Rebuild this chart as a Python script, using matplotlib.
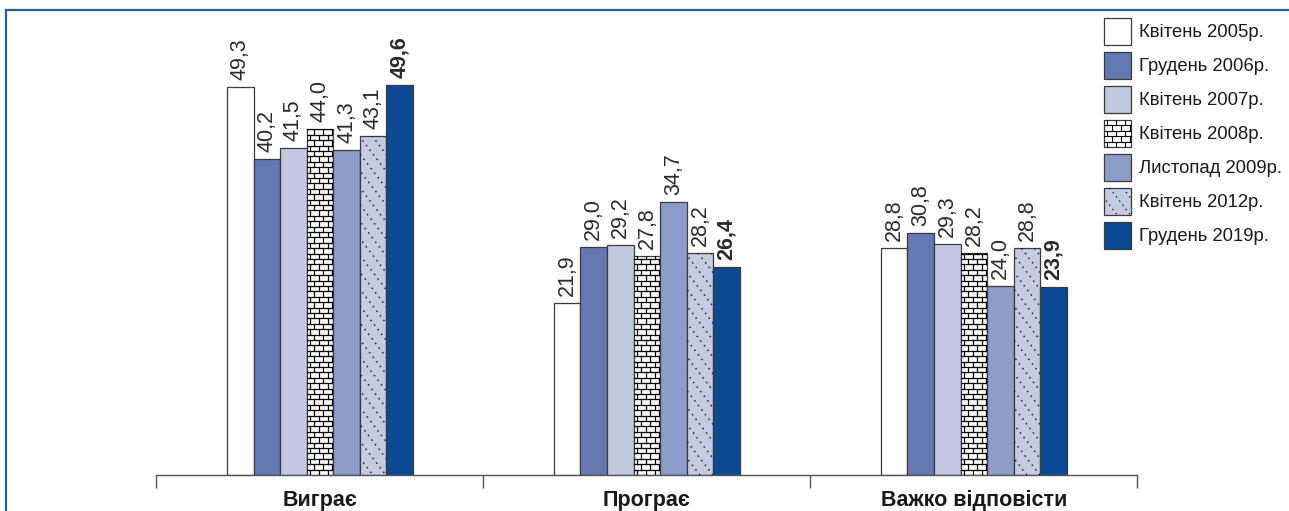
import numpy as np
import matplotlib
matplotlib.use('Agg')
import matplotlib.pyplot as plt
from matplotlib.patches import Rectangle
from matplotlib.lines import Line2D
from matplotlib.legend_handler import HandlerBase

# ================= DATA =================
categories = ['Виграє', 'Програє', 'Важко відповісти']
series_labels = ['Квітень 2005р.', 'Грудень 2006р.', 'Квітень 2007р.', 'Квітень 2008р.',
                 'Листопад 2009р.', 'Квітень 2012р.', 'Грудень 2019р.']
apr_2005 = [49.3, 21.9, 28.8]
dec_2006 = [40.2, 29.0, 30.8]
apr_2007 = [41.5, 29.2, 29.3]
apr_2008 = [44.0, 27.8, 28.2]
nov_2009 = [41.3, 34.7, 24.0]
apr_2012 = [43.1, 28.2, 28.8]
dec_2019 = [49.6, 26.4, 23.9]
series_values = [apr_2005, dec_2006, apr_2007, apr_2008, nov_2009, apr_2012, dec_2019]

# ================= STYLE =================
face_colors = ['#FFFFFF', '#6479B2', '#C3C8E1', '#FFFFFF', '#8D9DC9', '#C5CBE3', '#0B4A92']
fill_style = ['plain', 'plain', 'plain', 'brick', 'plain', 'dots', 'plain']
edge_color = '#3A3A3A'
text_color = '#2B2B2B'
frame_blue = '#1F5FA8'
bar_w = 0.0813

plt.rcParams['font.family'] = ['Liberation Sans', 'DejaVu Sans']

fig = plt.figure(figsize=(12.89, 5.11), dpi=100)
ax = fig.add_axes([0.1214, 0.0705, 0.761, 0.847])
ax.set_xlim(-0.5, 2.5)
ax.set_ylim(0, 55)

# pixel -> data unit helpers for textures
px_x = 3.0 / (0.761 * 1289)
px_y = 55.0 / (0.847 * 511)


def brick_lines(x0, y0, w, h, row_h, brick_w):
    segs = []
    nrows = int(np.ceil(h / row_h))
    for r in range(nrows):
        yy = y0 + r * row_h
        ytop = min(yy + row_h, y0 + h)
        if r > 0:
            segs.append(((x0, yy), (x0 + w, yy)))
        off = brick_w * 0.35 if r % 2 == 0 else brick_w * 0.85
        xx = x0 + off
        while xx < x0 + w:
            segs.append(((xx, yy), (xx, ytop)))
            xx += brick_w
    return segs


def diag_lines(x0, y0, w, h, step_x, slope):
    # lines going from upper-left to lower-right
    segs = []
    span = h / slope
    start = x0 - span
    k = 0
    while start + k * step_x < x0 + w:
        xs = start + k * step_x
        segs.append(((xs, y0 + h), (xs + span, y0)))
        k += 1
    return segs


for i, vals in enumerate(series_values):
    xs = np.arange(len(categories)) + (i - 3) * bar_w
    bars = ax.bar(xs, vals, width=bar_w, color=face_colors[i], edgecolor=edge_color,
                  linewidth=0.9, zorder=2)
    for b, v in zip(bars, vals):
        x0, w, h = b.get_x(), b.get_width(), b.get_height()
        if fill_style[i] == 'brick':
            for (p, q) in brick_lines(x0, 0, w, h, 5.4 * px_y, 9 * px_x):
                ln = Line2D([p[0], q[0]], [p[1], q[1]], color='black', lw=0.9, zorder=3)
                ax.add_line(ln)
                ln.set_clip_path(b)
        elif fill_style[i] == 'dots':
            for (p, q) in diag_lines(x0, 0, w, h, 13 * px_x, 1.3 * px_y / px_x):
                ln = Line2D([p[0], q[0]], [p[1], q[1]], color='#222222', lw=1.1,
                            linestyle=(0, (1, 2.8)), zorder=3)
                ax.add_line(ln)
                ln.set_clip_path(b)
        label = f'{v:.1f}'.replace('.', ',')
        ax.annotate(label, (b.get_x() + w / 2, h), xytext=(0, 5), textcoords='offset points',
                    rotation=90, ha='center', va='bottom', fontsize=15.5, color=text_color,
                    fontweight='bold' if i == 6 else 'normal')

# axes styling
for s in ['top', 'right', 'left']:
    ax.spines[s].set_visible(False)
ax.spines['bottom'].set_color('#555555')
ax.spines['bottom'].set_linewidth(1.0)
ax.set_yticks([])
ax.set_xticks([-0.5, 0.5, 1.5, 2.5])
ax.set_xticklabels([])
ax.tick_params(axis='x', which='major', direction='out', length=9, width=1.0, color='#555555')
ax.set_xticks([0, 1, 2], minor=True)
ax.set_xticklabels(categories, minor=True, fontsize=15.5, fontweight='bold', color='#1A1A1A')
ax.tick_params(axis='x', which='minor', length=0, pad=11)


# legend with custom textures
class TextureHandler(HandlerBase):
    def __init__(self, style):
        super().__init__()
        self.style = style

    def create_artists(self, legend, orig_handle, xdescent, ydescent, width, height, fontsize, trans):
        x0, y0 = -xdescent, -ydescent
        rect = Rectangle((x0, y0), width, height, facecolor=orig_handle.get_facecolor(),
                         edgecolor=edge_color, lw=0.9, transform=trans)
        arts = [rect]
        if self.style == 'brick':
            for (p, q) in brick_lines(x0, y0, width, height, 3.9, 6.5):
                arts.append(Line2D([p[0], q[0]], [p[1], q[1]], color='black', lw=0.8, transform=trans))
        elif self.style == 'dots':
            for (p, q) in diag_lines(x0, y0, width, height, 9.5, 1.3):
                ln = Line2D([p[0], q[0]], [p[1], q[1]], color='#222222', lw=1.0,
                            linestyle=(0, (1, 2.8)), transform=trans)
                ln.set_clip_path(rect)
                arts.append(ln)
        return arts


handles = [Rectangle((0, 0), 1, 1, facecolor=face_colors[i]) for i in range(len(series_labels))]
hmap = {h: TextureHandler(fill_style[i]) for i, h in enumerate(handles)}
fig.legend(handles, series_labels, handler_map=hmap, loc='upper left',
           bbox_to_anchor=(1104 / 1289, 1 - 18 / 511), frameon=False, fontsize=13.3,
           handlelength=1.46, handleheight=1.87, labelspacing=0.38, handletextpad=0.43,
           borderpad=0, borderaxespad=0, labelcolor='#1A1A1A')

# blue frame (top and left)
fig.add_artist(Line2D([5.5 / 1289, 1], [1 - 10.5 / 511, 1 - 10.5 / 511], color=frame_blue, lw=1.6,
                      transform=fig.transFigure))
fig.add_artist(Line2D([5.5 / 1289, 5.5 / 1289], [0, 1 - 10.5 / 511], color=frame_blue, lw=1.6,
                      transform=fig.transFigure))

fig.savefig('out.png', dpi=100)
